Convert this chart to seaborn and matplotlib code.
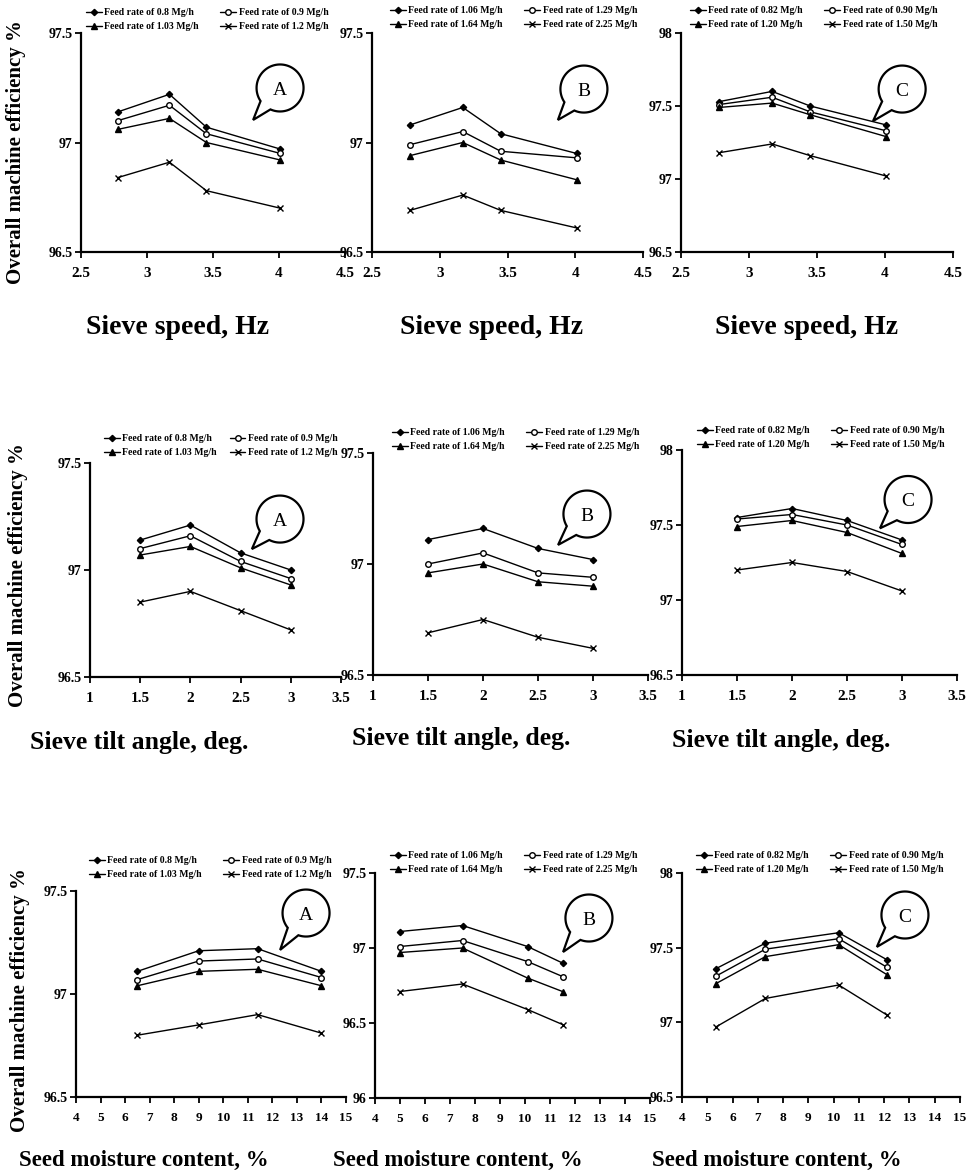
import numpy as np
import matplotlib
matplotlib.use('Agg')
import matplotlib.pyplot as plt
from matplotlib.patches import Polygon
from matplotlib.ticker import FuncFormatter
import seaborn as sns

# legend labels for the three machines
labels_a = ['Feed rate of 0.8 Mg/h', 'Feed rate of 0.9 Mg/h', 'Feed rate of 1.03 Mg/h', 'Feed rate of 1.2 Mg/h']
labels_b = ['Feed rate of 1.06 Mg/h', 'Feed rate of 1.29 Mg/h', 'Feed rate of 1.64 Mg/h', 'Feed rate of 2.25 Mg/h']
labels_c = ['Feed rate of 0.82 Mg/h', 'Feed rate of 0.90 Mg/h', 'Feed rate of 1.20 Mg/h', 'Feed rate of 1.50 Mg/h']

# x values
speed_x = [2.78, 3.17, 3.45, 4.01]
tilt_x = [1.5, 2.0, 2.5, 3.0]
moist_x_a = [6.5, 9.0, 11.4, 14.0]
moist_x_b = [5.0, 7.5, 10.1, 11.5]
moist_x_c = [5.35, 7.3, 10.2, 12.1]

# efficiency %, one row per feed rate
speed_a = [[97.14, 97.22, 97.07, 96.97],
           [97.10, 97.17, 97.04, 96.95],
           [97.06, 97.11, 97.00, 96.92],
           [96.84, 96.91, 96.78, 96.70]]
speed_b = [[97.08, 97.16, 97.04, 96.95],
           [96.99, 97.05, 96.96, 96.93],
           [96.94, 97.00, 96.92, 96.83],
           [96.69, 96.76, 96.69, 96.61]]
speed_c = [[97.53, 97.60, 97.50, 97.37],
           [97.51, 97.56, 97.46, 97.33],
           [97.49, 97.52, 97.44, 97.29],
           [97.18, 97.24, 97.16, 97.02]]
tilt_a = [[97.14, 97.21, 97.08, 97.00],
          [97.10, 97.16, 97.04, 96.96],
          [97.07, 97.11, 97.01, 96.93],
          [96.85, 96.90, 96.81, 96.72]]
tilt_b = [[97.11, 97.16, 97.07, 97.02],
          [97.00, 97.05, 96.96, 96.94],
          [96.96, 97.00, 96.92, 96.90],
          [96.69, 96.75, 96.67, 96.62]]
tilt_c = [[97.55, 97.61, 97.53, 97.40],
          [97.54, 97.57, 97.50, 97.37],
          [97.49, 97.53, 97.45, 97.31],
          [97.20, 97.25, 97.19, 97.06]]
moist_a = [[97.11, 97.21, 97.22, 97.11],
           [97.07, 97.16, 97.17, 97.08],
           [97.04, 97.11, 97.12, 97.04],
           [96.80, 96.85, 96.90, 96.81]]
moist_b = [[97.11, 97.15, 97.01, 96.90],
           [97.01, 97.05, 96.91, 96.81],
           [96.97, 97.00, 96.80, 96.71],
           [96.71, 96.76, 96.59, 96.49]]
moist_c = [[97.36, 97.53, 97.60, 97.42],
           [97.31, 97.49, 97.56, 97.37],
           [97.26, 97.44, 97.52, 97.32],
           [96.97, 97.16, 97.25, 97.05]]

sns.set_style('ticks')
plt.rcParams['font.family'] = ['Liberation Serif', 'DejaVu Serif']
plt.rcParams['font.weight'] = 'bold'
for k in ('text.color', 'axes.labelcolor', 'xtick.color', 'ytick.color', 'axes.edgecolor'):
    plt.rcParams[k] = 'black'

W, H = 975, 1172
fig = plt.figure(figsize=(9.75, 11.72), dpi=100)


def px(l, r, t, b):
    return [l / W, 1 - b / H, (r - l) / W, (b - t) / H]


def bubble(ax, w, h, c, tip, letter):
    r = 23.5
    rx, ry = r / w, r / h
    ang = np.arctan2((tip[1] - c[1]) * h, (tip[0] - c[0]) * w)
    gap = np.radians(16)
    t = np.linspace(ang + gap, ang + 2 * np.pi - gap, 90)
    pts = np.column_stack([c[0] + rx * np.cos(t), c[1] + ry * np.sin(t)])
    pts = np.vstack([pts, tip])
    ax.add_patch(Polygon(pts, closed=True, transform=ax.transAxes, fc='white',
                         ec='black', lw=1.6, clip_on=False, zorder=5))
    ax.text(c[0], c[1] - 0.01, letter, transform=ax.transAxes, ha='center', va='center',
            fontsize=14, fontweight='normal', zorder=6)


markers = ['D', 'o', '^', 'x']
msizes = [3.2, 4, 4.5, 4.5]

# (l, r, t, b), x, values, labels, xlim, xticks, ylim, legend px, col spacing, letter, bubble centre, tail tip
panels = [
    ((81, 345, 33, 252), speed_x, speed_a, labels_a, (2.5, 4.5), np.arange(2.5, 4.51, 0.5), (96.5, 97.5), (86, 8), 2.2, 'A', (0.754, 0.749), (0.652, 0.603)),
    ((372, 643, 33, 252), speed_x, speed_b, labels_b, (2.5, 4.5), np.arange(2.5, 4.51, 0.5), (96.5, 97.5), (390, 6), 2.2, 'B', (0.782, 0.744), (0.686, 0.603)),
    ((681, 953, 33, 252), speed_x, speed_c, labels_c, (2.5, 4.5), np.arange(2.5, 4.51, 0.5), (96.5, 98.0), (690, 6), 2.2, 'C', (0.813, 0.744), (0.706, 0.598)),
    ((90, 341, 463, 677), tilt_x, tilt_a, labels_a, (1, 3.5), np.arange(1, 3.51, 0.5), (96.5, 97.5), (104, 434), 1.3, 'A', (0.757, 0.738), (0.645, 0.598)),
    ((373, 648, 453, 675), tilt_x, tilt_b, labels_b, (1, 3.5), np.arange(1, 3.51, 0.5), (96.5, 97.5), (392, 428), 2.2, 'B', (0.778, 0.725), (0.673, 0.586)),
    ((682, 957, 450, 675), tilt_x, tilt_c, labels_c, (1, 3.5), np.arange(1, 3.51, 0.5), (96.5, 98.0), (697, 426), 2.2, 'C', (0.822, 0.780), (0.720, 0.652)),
    ((76, 346, 891, 1097), moist_x_a, moist_a, labels_a, (4, 15), np.arange(4, 16), (96.5, 97.5), (89, 856), 2.2, 'A', (0.852, 0.893), (0.756, 0.714)),
    ((375, 650, 873, 1098), moist_x_b, moist_b, labels_b, (4, 15), np.arange(4, 16), (96.0, 97.5), (390, 851), 2.2, 'B', (0.778, 0.800), (0.684, 0.649)),
    ((682, 960, 873, 1097), moist_x_c, moist_c, labels_c, (4, 15), np.arange(4, 16), (96.5, 98.0), (696, 851), 2.2, 'C', (0.802, 0.8125), (0.701, 0.670)),
]

fmt = FuncFormatter(lambda v, p: '%g' % v)

for i, (pos, xs, vals, labs, xlim, xt, ylim, lpos, cspace, letter, bc, tip) in enumerate(panels):
    ax = fig.add_axes(px(*pos))
    for v, lab, m, ms in zip(vals, labs, markers, msizes):
        sns.lineplot(x=xs, y=v, ax=ax, color='black', lw=1, marker=m, markersize=ms,
                     markerfacecolor='white' if m == 'o' else 'black',
                     markeredgecolor='black', markeredgewidth=1, label=lab)
    ax.set_xlim(*xlim)
    ax.set_ylim(*ylim)
    ax.set_xticks(xt)
    ax.set_yticks(np.arange(ylim[0], ylim[1] + 0.01, 0.5))
    ax.xaxis.set_major_formatter(fmt)
    ax.yaxis.set_major_formatter(fmt)
    ax.set_xlabel('')
    ax.set_ylabel('')
    sns.despine(ax=ax)
    for s in ('left', 'bottom'):
        ax.spines[s].set_linewidth(1.6)
    ax.tick_params(axis='both', direction='out', length=4, width=1.3)
    ax.tick_params(axis='x', labelsize=11 if i < 6 else 9.5, pad=7)
    ax.tick_params(axis='y', labelsize=10, pad=2)

    h, l = ax.get_legend_handles_labels()
    order = [0, 2, 1, 3]
    ax.legend([h[k] for k in order], [l[k] for k in order], loc='upper left',
              bbox_to_anchor=(lpos[0] / W, 1 - lpos[1] / H), bbox_transform=fig.transFigure,
              ncol=2, frameon=False, fontsize=7, handlelength=1.6, handletextpad=0.3,
              columnspacing=cspace, labelspacing=0.55, borderpad=0, borderaxespad=0)

    bubble(ax, pos[1] - pos[0], pos[3] - pos[2], bc, tip, letter)

# axis titles
xlabels = [
    ('Sieve speed, Hz', 178, 328, 20), ('Sieve speed, Hz', 492, 328, 20), ('Sieve speed, Hz', 807, 328, 20),
    ('Sieve tilt angle, deg.', 139, 743, 18.5), ('Sieve tilt angle, deg.', 461, 738, 18.5), ('Sieve tilt angle, deg.', 781, 740, 18.5),
    ('Seed moisture content, %', 144, 1160, 16.5), ('Seed moisture content, %', 458, 1160, 16.5), ('Seed moisture content, %', 777, 1160, 16.5),
]
for txt, x, y, fs in xlabels:
    fig.text(x / W, 1 - y / H, txt, ha='center', va='center', fontsize=fs, fontweight='bold')

for x, y in [(16, 152), (18, 575), (20, 1000)]:
    fig.text(x / W, 1 - y / H, 'Overall machine efficiency %', rotation=90,
             ha='center', va='center', fontsize=15, fontweight='bold')

fig.savefig('out.png', dpi=100)
